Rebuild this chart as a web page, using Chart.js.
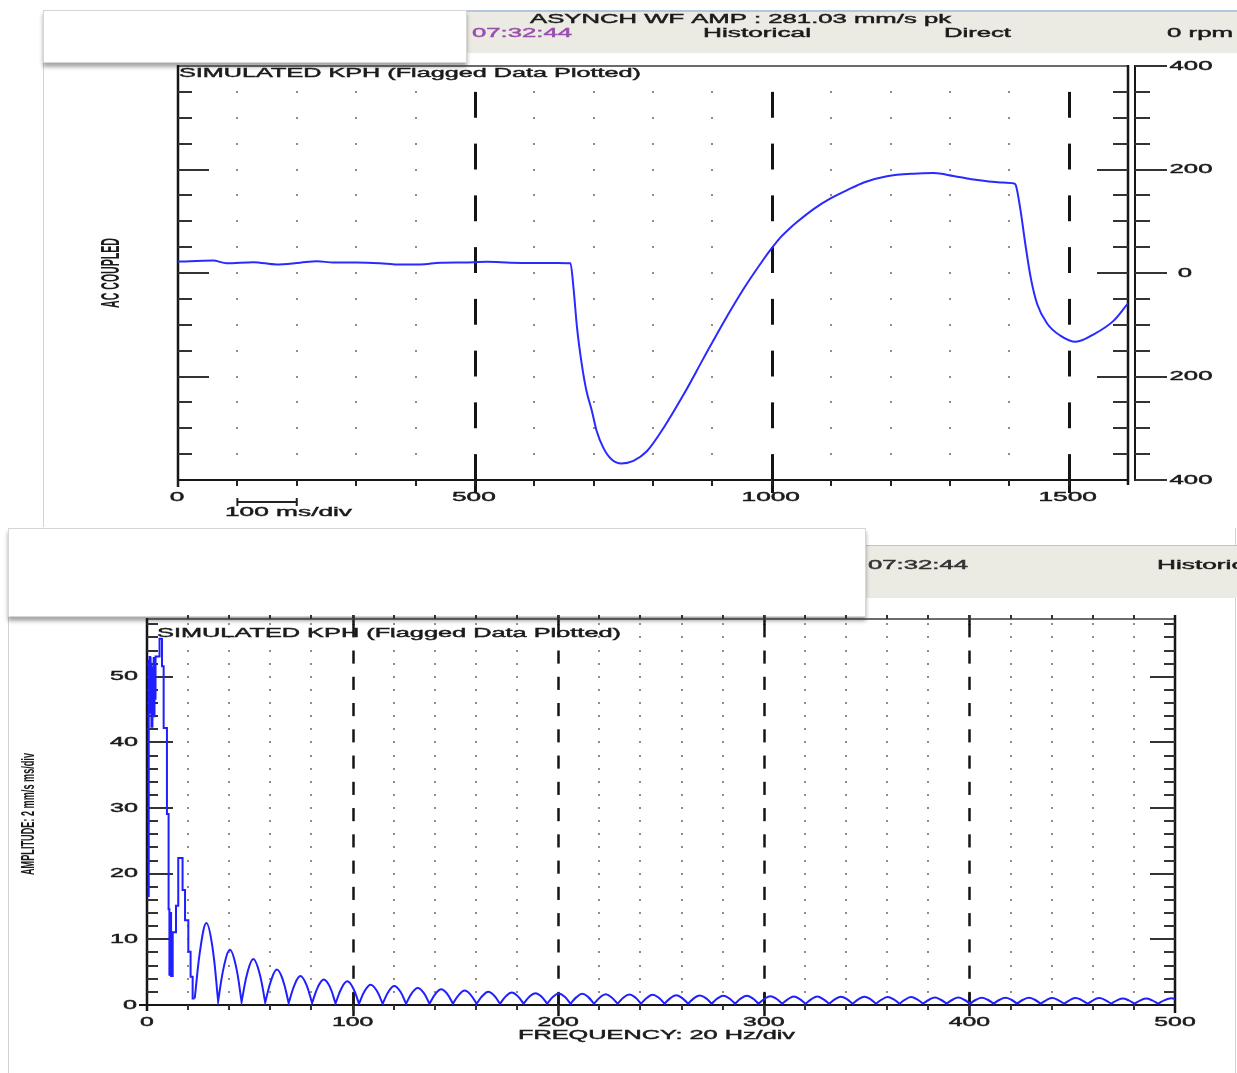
<!DOCTYPE html>
<html><head><meta charset="utf-8">
<script src="https://cdn.jsdelivr.net/npm/chart.js@4.4.0/dist/chart.umd.min.js"></script>
<style>
html,body{margin:0;padding:0;background:#fff;}
body{width:1237px;height:1073px;position:relative;overflow:hidden;}
.abs{position:absolute;box-sizing:border-box;}
canvas{position:absolute;left:0;top:0;}
</style></head><body>
<div class="abs" style="left:43px;top:10px;width:1194px;height:517px;border-left:1px solid #d2d2d2;background:#fff"></div>
<div class="abs" style="left:465px;top:10px;width:772px;height:43px;background:#ecebe3;border-top:2px solid #b5c4e0"></div>
<div class="abs" style="left:43px;top:10px;width:424px;height:53px;background:#fff;border:1px solid #d6d6d6;box-shadow:0 4px 4px rgba(0,0,0,0.35)"></div>
<div class="abs" style="left:8px;top:528px;width:1228px;height:545px;border-left:1px solid #d2d2d2;border-right:1px solid #d2d2d2;background:#fff"></div>
<div class="abs" style="left:865px;top:545px;width:372px;height:53px;background:#ecebe3;border-top:1px solid #b5c4e0"></div>
<div class="abs" style="left:8px;top:528px;width:858px;height:89px;background:#fff;border:1px solid #d6d6d6;box-shadow:0 4px 4px rgba(0,0,0,0.35)"></div>
<canvas id="c1" width="1237" height="1073"></canvas>
<canvas id="c2" width="1237" height="1073"></canvas>
<script>
// ---------- DATA: time waveform ----------
const waveTimeMs = [0, 59, 82, 127, 166, 206, 234, 262, 301, 340, 369, 408, 442, 481, 520, 560, 600, 640, 661,
  666, 672, 680, 688, 697, 705, 716, 730, 747, 767, 790, 818, 852, 885, 919, 953, 986, 1000, 1014, 1031, 1042,
  1071, 1099, 1127, 1155, 1194, 1239, 1273, 1306, 1340, 1385, 1408, 1411, 1419, 1427, 1436, 1447, 1464, 1486,
  1512, 1543, 1576, 1600];
const waveKph = [22, 24, 19, 21, 16.5, 20, 22.5, 20.5, 20.5, 19, 16.5, 16.5, 20, 20.5, 21.5, 20, 19.5, 19.5, 19,
  -27.5, -105, -176, -228, -266, -305, -337, -360, -368, -363, -344, -299, -234, -165, -95, -30, 26, 48, 68, 87, 98,
  124, 144, 160, 175, 187, 192, 193, 187.5, 180.5, 175, 173, 170, 121, 56.5, -8, -60, -98, -121,
  -133, -118, -92, -58.5];

// ---------- DATA: spectrum ----------
const specEarlyHz = [0.3, 0.65, 0.65, 0.95, 0.95, 1.25, 1.25, 1.55, 1.55, 1.85, 1.85, 2.15, 2.15, 2.45, 2.45,
  2.75, 2.75, 3.05, 3.05, 3.35, 3.35, 3.65, 3.65, 3.95, 3.95, 4.25, 4.25, 6.1, 6.1, 7.3, 7.3, 8.1, 8.1, 9.7, 9.7,
  10.5, 10.5, 10.9, 10.9, 11.3, 11.3, 11.7, 11.7, 12.5, 12.5, 14.1, 14.1, 15.2, 15.2, 17.3, 17.3, 18.5, 18.5,
  20.1, 20.1, 21.2, 21.2, 22.2, 22.2, 23.2];
const specEarlyAmp = [16.6, 16.6, 52.6, 52.6, 44.5, 44.5, 53.0, 53.0, 45.5, 45.5, 52.0, 52.0, 42.4, 42.4, 51.5,
  51.5, 46.0, 46.0, 53.0, 53.0, 44.0, 44.0, 52.5, 52.5, 46.5, 46.5, 53.1, 53.1, 55.8, 55.8, 51.6, 51.6, 42.2, 42.2, 29.1,
  29.1, 14.6, 14.6, 4.6, 4.6, 14.0, 14.0, 4.4, 4.4, 11.1, 11.1, 15.1, 15.1, 22.4, 22.4, 17.5, 17.5, 12.9,
  12.9, 8.1, 8.1, 4.3, 4.3, 1.0, 1.0];
const specLobeHz = [23.2, 26.1, 28.9, 31.8,
  34.6, 34.6, 37.5, 40.3, 43.2,   46.0, 46.0, 48.9, 51.7, 54.6,   57.5, 57.5, 60.4, 63.2, 66.1,
  68.9, 68.9, 71.8, 74.6, 77.5,   80.3, 80.3, 83.2, 86.0, 88.9,   91.7, 91.7, 94.6, 97.4, 100.3,
  103.1, 103.1, 106.0, 108.8, 111.7,   114.6, 114.6, 117.5, 120.3, 123.2,   126.0, 126.0, 128.9, 131.7, 134.6,
  137.4, 137.4, 140.3, 143.1, 146.0,   148.8, 148.8, 151.7, 154.5, 157.4,   160.3, 160.3, 163.2, 166.0, 168.9,
  171.7, 171.7, 174.6, 177.4, 180.3,   183.2, 183.2, 186.1, 188.9, 191.8,   194.6, 194.6, 197.5, 200.3, 203.2,
  206.0, 206.0, 208.9, 211.7, 214.6,   217.4, 217.4, 220.3, 223.1, 226.0,   228.9, 228.9, 231.8, 234.6, 237.5,
  240.3, 240.3, 243.2, 246.0, 248.9,   251.7, 251.7, 254.6, 257.4, 260.3,   263.2, 263.2, 266.1, 268.9, 271.8,
  274.6, 274.6, 277.5, 280.3, 283.2,   286.0, 286.0, 288.9, 291.7, 294.6,   297.5, 297.5, 300.4, 303.2, 306.1,
  308.9, 308.9, 311.8, 314.6, 317.5,   320.3, 320.3, 323.2, 326.0, 328.9,   331.8, 331.8, 334.7, 337.5, 340.4,
  343.2, 343.2, 346.1, 348.9, 351.8,   354.6, 354.6, 357.5, 360.3, 363.2,   366.0, 366.0, 368.9, 371.7, 374.6,
  377.5, 377.5, 380.4, 383.2, 386.1,   388.9, 388.9, 391.8, 394.6, 397.5,   400.3, 400.3, 403.2, 406.0, 408.9,
  411.8, 411.8, 414.7, 417.5, 420.4,   423.2, 423.2, 426.1, 428.9, 431.8,   434.6, 434.6, 437.5, 440.3, 443.2,
  446.0, 446.0, 448.9, 451.7, 454.6,   457.5, 457.5, 460.4, 463.2, 466.1,   468.9, 468.9, 471.8, 474.6, 477.5,
  480.3, 480.3, 483.2, 486.0, 488.9,   491.8, 491.8, 494.7, 497.5, 500.0];
const specLobeAmp = [1.0, 8.9, 12.5, 8.9,
  0.6, 0.6, 6.0, 8.4, 6.0,   0.5, 0.5, 5.0, 7.0, 5.0,   0.4, 0.4, 3.8, 5.4, 3.8,
  0.3, 0.3, 3.1, 4.4, 3.1,   0.3, 0.3, 2.8, 3.9, 2.8,   0.25, 0.25, 2.55, 3.6, 2.55,
  0.2, 0.2, 2.2, 3.1, 2.2,   0.2, 0.2, 2.05, 2.9, 2.05,   0.2, 0.2, 1.85, 2.6, 1.85,
  0.2, 0.2, 1.7, 2.4, 1.7,   0.2, 0.2, 1.55, 2.2, 1.55,   0.2, 0.2, 1.4, 2.0, 1.4,
  0.2, 0.2, 1.35, 1.9, 1.35,   0.2, 0.2, 1.3, 1.8, 1.3,   0.2, 0.2, 1.25, 1.75, 1.25,
  0.2, 0.2, 1.2, 1.7, 1.2,   0.2, 0.2, 1.15, 1.65, 1.15,   0.2, 0.2, 1.15, 1.6, 1.15,
  0.2, 0.2, 1.1, 1.55, 1.1,   0.2, 0.2, 1.05, 1.5, 1.05,   0.2, 0.2, 1.05, 1.45, 1.05,
  0.2, 0.2, 1.0, 1.4, 1.0,   0.2, 0.2, 1.0, 1.4, 1.0,   0.2, 0.2, 0.95, 1.35, 0.95,
  0.2, 0.2, 0.9, 1.3, 0.9,   0.2, 0.2, 0.9, 1.3, 0.9,   0.2, 0.2, 0.9, 1.25, 0.9,
  0.2, 0.2, 0.9, 1.25, 0.9,   0.2, 0.2, 0.85, 1.2, 0.85,   0.2, 0.2, 0.85, 1.2, 0.85,
  0.2, 0.2, 0.8, 1.15, 0.8,   0.2, 0.2, 0.8, 1.15, 0.8,   0.2, 0.2, 0.8, 1.1, 0.8,
  0.2, 0.2, 0.8, 1.1, 0.8,   0.2, 0.2, 0.8, 1.1, 0.8,   0.2, 0.2, 0.75, 1.05, 0.75,
  0.2, 0.2, 0.75, 1.05, 0.75,   0.2, 0.2, 0.75, 1.05, 0.75,   0.2, 0.2, 0.7, 1.0, 0.7,
  0.2, 0.2, 0.7, 1.0, 0.7,   0.2, 0.2, 0.7, 1.0, 0.95];

// ---------- TICKS / LABELS ----------
const timeLabelVals = [0, 500, 1000, 1500];
const timeLabels = ['0', '500', '1000', '1500'];
const kphRightVals = [400, 200, 0, -200, -400];
const kphRightLabels = ['400', '200', '0', '200', '400'];
const freqLabelVals = [0, 100, 200, 300, 400, 500];
const freqLabels = ['0', '100', '200', '300', '400', '500'];
const ampLabelVals = [0, 10, 20, 30, 40, 50];
const ampLabels = ['0', '10', '20', '30', '40', '50'];

const FONT = '"Liberation Sans", Arial, sans-serif';
function drawText(ctx, s, x, y, o) {
  o = o || {};
  ctx.save();
  ctx.font = (o.weight || 'normal') + ' ' + (o.size || 13) + 'px ' + (o.family || FONT);
  const m = ctx.measureText(s).width;
  const sx = o.w ? o.w / m : 1.9;
  const w = m * sx;
  ctx.translate(x, y);
  if (o.rot) ctx.rotate(o.rot);
  let left = 0;
  if (o.align === 'center') left = -w / 2; else if (o.align === 'right') left = -w;
  ctx.translate(left, 0);
  ctx.scale(sx, 1);
  ctx.fillStyle = o.color || '#1b1b1b';
  ctx.strokeStyle = o.color || '#1b1b1b';
  ctx.lineWidth = o.stroke === undefined ? 0.45 : o.stroke;
  ctx.textBaseline = 'middle'; ctx.textAlign = 'left';
  ctx.fillText(s, 0, 0);
  if (o.stroke !== 0) ctx.strokeText(s, 0, 0);
  ctx.restore();
}
function seg(ctx, x1, y1, x2, y2) { ctx.beginPath(); ctx.moveTo(x1, y1); ctx.lineTo(x2, y2); ctx.stroke(); }

// ---------- TOP CHART DECORATION ----------
const topDeco = {
  id: 'topDeco',
  beforeDatasetsDraw(chart) {
    const ctx = chart.ctx, X = chart.scales.x, Y = chart.scales.y;
    const px = v => X.getPixelForValue(v), py = v => Y.getPixelForValue(v);
    ctx.save();
    ctx.fillStyle = '#8e8e8e';
    for (let t = 100; t < 1600; t += 100) {
      if (t % 500 === 0) continue;
      for (let v = 350; v >= -350; v -= 50) ctx.fillRect(Math.round(px(t)) - 1, Math.round(py(v)) - 1, 2, 2);
    }
    ctx.strokeStyle = '#141414'; ctx.lineWidth = 3;
    for (let t = 500; t < 1600; t += 500) {
      const x = Math.round(px(t)) + 0.5;
      for (let v = 350; v >= -350; v -= 100) seg(ctx, x, py(v), x, py(v - 50));
      seg(ctx, x, py(-400), x, py(-400) + 13);
    }
    ctx.strokeStyle = '#3a3a3a'; ctx.lineWidth = 1.5;
    seg(ctx, px(0), py(400), px(1600), py(400));
    ctx.strokeStyle = '#161616'; ctx.lineWidth = 2.5;
    seg(ctx, px(0), py(400) - 1, px(0), py(-400) + 7);
    seg(ctx, px(1600), py(400) - 1, px(1600), py(-400) + 5);
    ctx.lineWidth = 2;
    seg(ctx, px(0), py(-400), px(1600), py(-400));
    seg(ctx, px(1600) + 7, py(400) - 1, px(1600) + 7, py(-400) + 1);
    ctx.strokeStyle = '#333'; ctx.lineWidth = 2;
    for (let v = 350; v >= -350; v -= 50) {
      const y = Math.round(py(v));
      const major = (v % 200 === 0);
      seg(ctx, px(0), y, px(0) + (major ? 31 : 14), y);
      seg(ctx, px(1600), y, px(1600) - (major ? 31 : 15), y);
    }
    for (let v = 400; v >= -400; v -= 50) {
      const y = Math.round(py(v));
      const major = (v % 200 === 0);
      seg(ctx, px(1600) + 7, y, px(1600) + 7 + (major ? 32 : 15), y);
    }
    ctx.strokeStyle = '#222';
    for (let t = 0; t < 1600; t += 100) {
      const x = Math.round(px(t));
      seg(ctx, x, py(-400), x, py(-400) + 6);
    }
    const yb = 502;
    seg(ctx, px(100), yb, px(200), yb);
    seg(ctx, px(100), yb - 4, px(100), yb + 4);
    seg(ctx, px(200), yb - 4, px(200), yb + 4);
    ctx.restore();
  },
  afterDatasetsDraw(chart) {
    const ctx = chart.ctx, X = chart.scales.x, Y = chart.scales.y;
    const px = v => X.getPixelForValue(v), py = v => Y.getPixelForValue(v);
    drawText(ctx, 'ASYNCH WF AMP : 281.03 mm/s pk', 530, 19, { w: 421 });
    drawText(ctx, '07:32:44', 472, 33, { w: 100, color: '#9a4fae' });
    drawText(ctx, 'Historical', 703, 33, { w: 108 });
    drawText(ctx, 'Direct', 944, 33, { w: 67 });
    drawText(ctx, '0 rpm', 1167, 33, { w: 66 });
    drawText(ctx, 'SIMULATED KPH (Flagged Data Plotted)', 179, 73, { w: 462 });
    timeLabels.forEach((s, i) => drawText(ctx, s, px(timeLabelVals[i]) - 1, 497, { align: 'center', w: s.length * 14.6 }));
    kphRightLabels.forEach((s, i) => {
      const x = s === '0' ? 1185 : 1191;
      drawText(ctx, s, x, py(kphRightVals[i]), { align: 'center', w: s.length * 14.3 });
    });
    drawText(ctx, '100 ms/div', 225, 512, { w: 127 });
    drawText(ctx, 'AC COUPLED', 112, 273, { rot: -Math.PI / 2, align: 'center', w: 70, size: 25, weight: 'bold', stroke: 0 });
  }
};

// ---------- BOTTOM CHART DECORATION ----------
const botDeco = {
  id: 'botDeco',
  beforeDatasetsDraw(chart) {
    const ctx = chart.ctx, X = chart.scales.x, Y = chart.scales.y;
    const px = v => X.getPixelForValue(v), py = v => Y.getPixelForValue(v);
    ctx.save();
    ctx.fillStyle = '#8e8e8e';
    for (let f = 20; f < 500; f += 20) {
      if (f % 100 === 0) continue;
      for (let v = 2; v <= 58; v += 2) ctx.fillRect(Math.round(px(f)) - 1, Math.round(py(v)) - 1, 2, 2);
    }
    ctx.strokeStyle = '#141414'; ctx.lineWidth = 2.5;
    for (let f = 100; f < 500; f += 100) {
      const x = Math.round(px(f)) + 0.5;
      for (let v = 0; v <= 56; v += 4) seg(ctx, x, py(v), x, py(v + 2));
      seg(ctx, x, py(0) - 12, x, py(0) + 11);
      seg(ctx, x, py(58.8) - 4, x, py(58.8) + 6);
    }
    ctx.strokeStyle = '#3a3a3a'; ctx.lineWidth = 1.5;
    seg(ctx, px(0), py(58.8), px(500), py(58.8));
    ctx.strokeStyle = '#161616'; ctx.lineWidth = 2.5;
    seg(ctx, px(0), py(58.8) - 1, px(0), py(0) + 6);
    seg(ctx, px(500), py(58.8) - 4, px(500), py(0) + 8);
    ctx.lineWidth = 2;
    seg(ctx, px(0) - 8, py(0), px(500), py(0));
    ctx.strokeStyle = '#333'; ctx.lineWidth = 2;
    for (let v = 2; v <= 58; v += 2) {
      const y = Math.round(py(v));
      const major = (v % 10 === 0);
      seg(ctx, px(0), y, px(0) + (major ? 26 : 11), y);
      seg(ctx, px(500), y, px(500) - (major ? 25 : 11), y);
    }
    for (let f = 20; f < 500; f += 20) {
      const x = Math.round(px(f));
      seg(ctx, x, py(0), x, py(0) + 5);
      seg(ctx, x, py(58.8), x, py(58.8) - 4);
    }
    ctx.restore();
  },
  afterDatasetsDraw(chart) {
    const ctx = chart.ctx, X = chart.scales.x, Y = chart.scales.y;
    const px = v => X.getPixelForValue(v), py = v => Y.getPixelForValue(v);
    drawText(ctx, '07:32:44', 868, 565, { w: 100, color: '#333' });
    drawText(ctx, 'Historical', 1157, 565, { w: 108 });
    drawText(ctx, 'SIMULATED KPH (Flagged Data Plotted)', 157, 633, { w: 464 });
    freqLabels.forEach((s, i) => drawText(ctx, s, px(freqLabelVals[i]), 1022, { align: 'center', w: s.length * 13.8 }));
    ampLabels.forEach((s, i) => drawText(ctx, s, s === '0' ? 137 : 138, py(ampLabelVals[i]), { align: 'right', w: s.length * 14 }));
    drawText(ctx, 'FREQUENCY: 20 Hz/div', 518, 1035, { w: 277 });
    drawText(ctx, 'AMPLITUDE: 2 mm/s ms/div', 29, 814, { rot: -Math.PI / 2, align: 'center', w: 122, size: 18, weight: 'bold', stroke: 0 });
  }
};

const common = (padding, xr, yr) => ({
  responsive: false, animation: false, devicePixelRatio: 1,
  layout: { padding },
  scales: {
    x: { type: 'linear', min: xr[0], max: xr[1], display: false },
    y: { type: 'linear', min: yr[0], max: yr[1], display: false }
  },
  plugins: { legend: { display: false }, tooltip: { enabled: false } },
  elements: { point: { radius: 0 } }
});

new Chart(document.getElementById('c1'), {
  type: 'line',
  data: { datasets: [{
    data: waveTimeMs.map((t, i) => ({ x: t, y: waveKph[i] })),
    borderColor: '#2a2aff', borderWidth: 2, pointRadius: 0, fill: false,
    cubicInterpolationMode: 'monotone'
  }] },
  options: common({ left: 178, right: 1237 - 1128, top: 66, bottom: 1073 - 480 }, [0, 1600], [-400, 400]),
  plugins: [topDeco]
});

new Chart(document.getElementById('c2'), {
  type: 'line',
  data: { datasets: [
    { data: specEarlyHz.map((f, i) => ({ x: f, y: specEarlyAmp[i] })),
      borderColor: '#1f1fff', borderWidth: 2, pointRadius: 0, fill: false, tension: 0 },
    { data: specLobeHz.map((f, i) => ({ x: f, y: specLobeAmp[i] })),
      borderColor: '#1f1fff', borderWidth: 2, pointRadius: 0, fill: false, tension: 0.4 }
  ] },
  options: common({ left: 147, right: 1237 - 1175, top: 619, bottom: 1073 - 1005 }, [0, 500], [0, 58.8]),
  plugins: [botDeco]
});
</script>
</body></html>
